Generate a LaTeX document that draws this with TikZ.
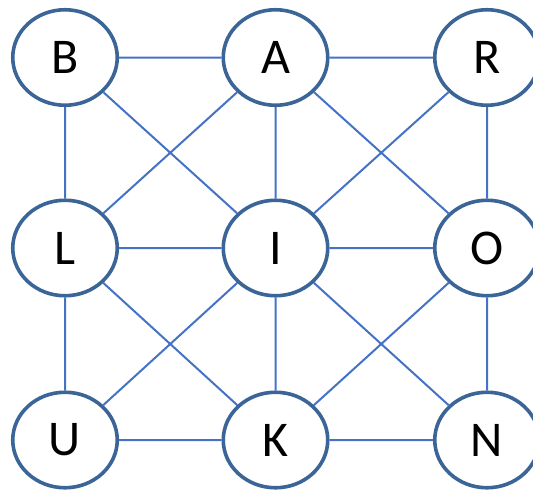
\documentclass[tikz,border=0pt]{standalone}
\usepackage{fontspec}
\setmainfont{Carlito}
\usetikzlibrary{shapes.geometric}
\definecolor{edgeblue}{HTML}{4472C4}
\definecolor{ringblue}{HTML}{3A6596}
\begin{document}
\begin{tikzpicture}[x=1pt,y=-1pt,
  vert/.style={ellipse,draw=ringblue,line width=3.6pt,fill=white,minimum width=104.5pt,minimum height=95.5pt,inner sep=0pt,font=\fontsize{50}{60}\selectfont},
  link/.style={draw=edgeblue,line width=2pt}]
\useasboundingbox (0,0) rectangle (533,490);
\node[vert] (B) at (65,57.5) {B};
\node[vert] (A) at (275.5,57.5) {A};
\node[vert] (R) at (487,57.5) {R};
\node[vert] (L) at (65,248) {L};
\node[vert] (I) at (275.5,248) {I};
\node[vert] (O) at (487,248) {O};
\node[vert] (U) at (65,440) {U};
\node[vert] (K) at (275.5,440) {K};
\node[vert] (N) at (487,440) {N};
\path[link] (B) -- (A) (A) -- (R) (L) -- (I) (I) -- (O) (U) -- (K) (K) -- (N)
  (B) -- (L) (L) -- (U) (A) -- (I) (I) -- (K) (R) -- (O) (O) -- (N)
  (B) -- (I) (A) -- (L) (A) -- (O) (R) -- (I)
  (L) -- (K) (I) -- (U) (I) -- (N) (O) -- (K);
\end{tikzpicture}
\end{document}
